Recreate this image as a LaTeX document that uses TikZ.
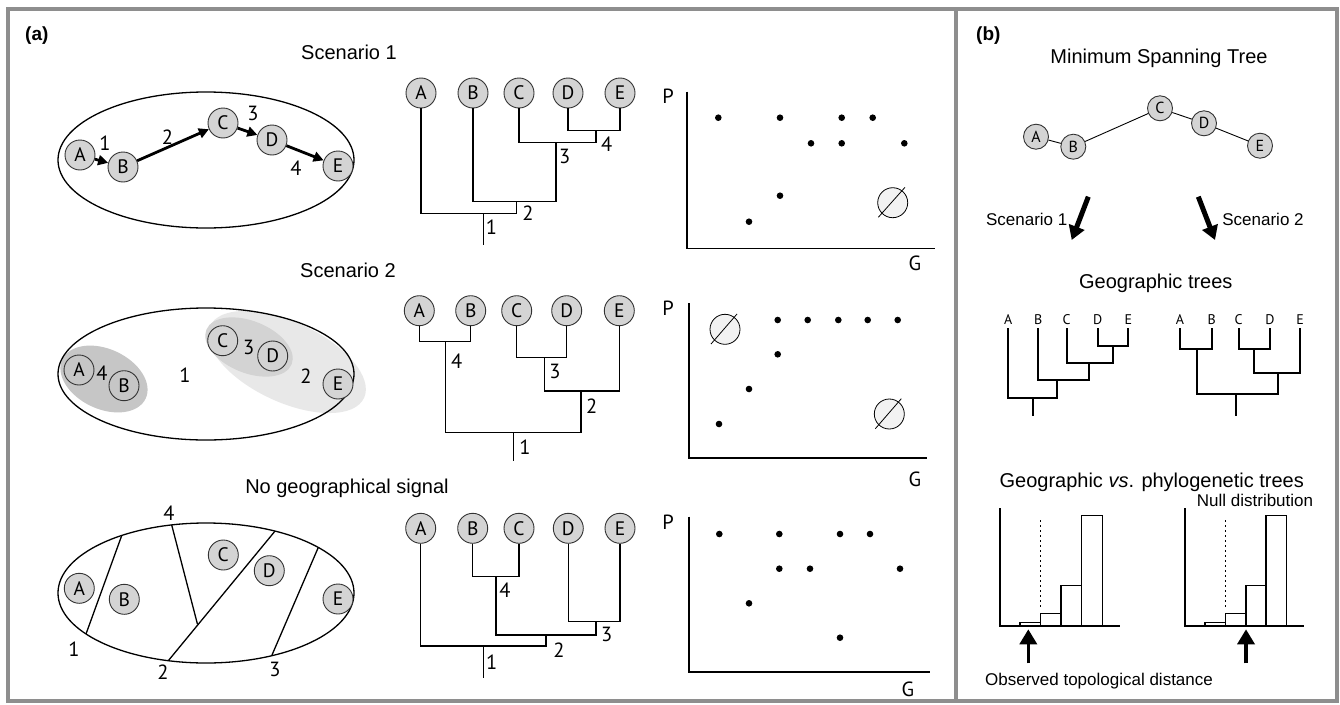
\documentclass[tikz,border=0pt]{standalone}
\usepackage{fontspec}
\setmainfont{Liberation Sans}
\newfontfamily\myr{PT Sans}
\usetikzlibrary{arrows.meta}
\definecolor{frmc}{HTML}{8E8E8E}
\definecolor{ndfill}{HTML}{D4D4D4}
\definecolor{ndline}{HTML}{333333}
\definecolor{regdark}{HTML}{C6C6C6}
\definecolor{regmid}{HTML}{D3D3D3}
\definecolor{reglight}{HTML}{E8E8E8}
\definecolor{esfill}{HTML}{F2F2F2}
\begin{document}
\begin{tikzpicture}[x=1pt,y=-1pt,
 frm/.style={draw=frmc,line width=4pt},
 nd/.style={circle,draw=ndline,fill=ndfill,line width=0.9pt,minimum size=30pt,inner sep=0pt,font=\myr\fontsize{19.5}{19.5}\selectfont},
 nds/.style={nd,minimum size=25pt,font=\myr\fontsize{16}{16}\selectfont},
 ndo/.style={nd,fill=none},
 gl/.style={inner sep=0pt,outer sep=4pt,font=\myr\fontsize{14}{14}\selectfont},
 tr/.style={line width=1.4pt},
 trb/.style={line width=2pt},
 num/.style={inner sep=0pt,font=\myr\fontsize{20.5}{20.5}\selectfont},
 ttl/.style={inner sep=0pt,anchor=base,font=\fontsize{20}{20}\selectfont},
 sml/.style={inner sep=0pt,anchor=base,font=\fontsize{17}{17}\selectfont},
 pnl/.style={inner sep=0pt,anchor=base west,font=\bfseries\fontsize{19}{19}\selectfont},
 ax/.style={line width=1.6pt},
 dotp/.style={fill=black},
 es/.style={draw,line width=0.8pt,fill=esfill},
 arr/.style={line width=2.8pt,-{Triangle[length=10pt,width=10pt]}},
 bigarr/.style={line width=5pt,-{Triangle[length=14pt,width=16pt]}},
 harr/.style={line width=3.5pt,-{Triangle[length=15pt,width=17pt]}},
 bar/.style={draw,line width=1.2pt},
 ]
\useasboundingbox (0,0) rectangle (1340,704);
\fill[white] (0,0) rectangle (1340,704);
% frame
\draw[frm] (8,8.5) rectangle (1337,701);
\draw[frm] (956,8.5) -- (956,701);
\node[pnl] (pa) at (25,40) {(a)};
\node[pnl] (pb) at (976,40) {(b)};

% ---------- Scenario 1 ----------
\node[ttl] (s1t) at (349,59) {Scenario 1};
\draw[line width=1.3pt] (206,160) ellipse (148pt and 68pt);
\node[nd] (s1A) at (80,155) {A};
\node[nd] (s1B) at (123,167) {B};
\node[nd] (s1C) at (223,123) {C};
\node[nd] (s1D) at (272,140) {D};
\node[nd] (s1E) at (338,166) {E};
\draw[arr] (s1A) -- (s1B);
\draw[arr] (s1B) -- (s1C);
\draw[arr] (s1C) -- (s1D);
\draw[arr] (s1D) -- (s1E);
\node[num] (s1n1) at (105,143.3) {1};
\node[num] (s1n2) at (167.5,136.7) {2};
\node[num] (s1n3) at (253,113.3) {3};
\node[num] (s1n4) at (296,168.3) {4};

% tree 1
\node[nd] (t1A) at (421,93) {A};
\node[nd] (t1B) at (473,93) {B};
\node[nd] (t1C) at (519,93) {C};
\node[nd] (t1D) at (568,93) {D};
\node[nd] (t1E) at (620,93) {E};
\coordinate (t1de) at (596,130.7);
\coordinate (t1cde) at (556,142.3);
\coordinate (t1b) at (516.7,201.7);
\coordinate (t1a) at (483.3,213.3);
\coordinate (t1r) at (483.3,245);
\draw[tr] (t1D) |- (t1de) -| (t1E);
\draw[tr] (t1C) |- (t1cde) -| (t1de);
\draw[tr] (t1B) |- (t1b) -| (t1cde);
\draw[tr] (t1A) |- (t1a) -| (t1b);
\draw[tr] (t1a) -- (t1r);
\node[num] (t1n4) at (606.7,144) {4};
\node[num] (t1n3) at (564.7,156) {3};
\node[num] (t1n2) at (528,213) {2};
\node[num] (t1n1) at (491.5,227.5) {1};

% scatter 1
\draw[ax] (686.7,91.7) -- (686.7,248.3) -- (935,248.3);
\node[num] (p1) at (668,96) {P};
\node[num] (g1) at (915,263) {G};
\foreach \x/\y in {718.3/117.7,780/117.7,841.7/117.7,872.7/117.7,811/143.3,841.7/143.3,904.3/143.3,780/195.7,749/221.7}
  \fill[dotp] (\x,\y) circle (3.3pt);
\draw[es] (892.7,202.7) circle (15pt);
\draw[line width=0.8pt] (878.3,217.3) -- (905,187.3);

% ---------- Scenario 2 ----------
\node[ttl] (s2t) at (348,277) {Scenario 2};
\fill[reglight,shift={(287,362)},rotate=-25] (0,0) ellipse (85pt and 40pt);
\fill[regmid,shift={(249,347)},rotate=-22] (0,0) ellipse (46pt and 26pt);
\fill[regdark,shift={(104,379)},rotate=-25] (0,0) ellipse (46pt and 30pt);
\draw[line width=1.3pt] (206,374) ellipse (148pt and 66pt);
\node[ndo] (s2A) at (79,370) {A};
\node[ndo] (s2B) at (124,385.7) {B};
\node[ndo] (s2C) at (222.7,340.7) {C};
\node[ndo] (s2D) at (272.7,356) {D};
\node[nd] (s2E) at (338,384) {E};
\node[num] (s2n4) at (102,373) {4};
\node[num] (s2n1) at (185,375.5) {1};
\node[num] (s2n3) at (248.7,347.3) {3};
\node[num] (s2n2) at (306,376) {2};

% tree 2
\node[nd] (t2A) at (419.3,310.7) {A};
\node[nd] (t2B) at (470.7,310.7) {B};
\node[nd] (t2C) at (516.7,310.7) {C};
\node[nd] (t2D) at (566.7,310.7) {D};
\node[nd] (t2E) at (619.3,310.7) {E};
\coordinate (t2ab) at (445.7,341.7);
\coordinate (t2cd) at (544.3,357.7);
\coordinate (t2cde) at (581,391);
\coordinate (t2all) at (513.3,432.7);
\coordinate (t2r) at (513.3,460.7);
\draw[tr] (t2A) |- (t2ab) -| (t2B);
\draw[tr] (t2C) |- (t2cd) -| (t2D);
\draw[tr] (t2cd) |- (t2cde) -| (t2E);
\draw[tr] (t2ab) |- (t2all) -| (t2cde);
\draw[tr] (t2all) -- (t2r);
\node[num] (t2n4) at (456.7,361) {4};
\node[num] (t2n3) at (555,371) {3};
\node[num] (t2n2) at (591.7,405.8) {2};
\node[num] (t2n1) at (525,446.7) {1};

% scatter 2
\draw[ax] (689,303.3) -- (689,457.7) -- (926.7,457.7);
\node[num] (p2) at (668,308) {P};
\node[num] (g2) at (915,479) {G};
\foreach \x/\y in {777.7/320,807.7/320,838.3/320,867.7/320,897.7/320,777.7/354.3,749/389,719/424}
  \fill[dotp] (\x,\y) circle (3.3pt);
\draw[es] (725,329.3) circle (15pt);
\draw[line width=0.8pt] (711,344) -- (737,314);
\draw[es] (889.3,414) circle (15pt);
\draw[line width=0.8pt] (875.3,428.7) -- (901.3,398.7);

% ---------- No geographical signal ----------
\node[ttl] (s3t) at (347,493) {No geographical signal};
\draw[line width=1.3pt] (206,593) ellipse (148pt and 70pt);
\coordinate (l1a) at (121.7,535.6);
\coordinate (l1b) at (86,634);
\coordinate (l2a) at (171.7,525);
\coordinate (l2b) at (197.5,624.3);
\coordinate (l3a) at (275,531.1);
\coordinate (l3b) at (168.3,660.7);
\coordinate (l4a) at (318.3,547.4);
\coordinate (l4b) at (271.7,655.7);
\draw[line width=1.3pt] (l1a) -- (l1b);
\draw[line width=1.3pt] (l2a) -- (l2b);
\draw[line width=1.3pt] (l3a) -- (l3b);
\draw[line width=1.3pt] (l4a) -- (l4b);
\node[nd] (s3A) at (79.3,588.3) {A};
\node[nd] (s3B) at (124.3,599.3) {B};
\node[nd] (s3C) at (223.3,555) {C};
\node[nd] (s3D) at (269.3,570.7) {D};
\node[nd] (s3E) at (338,599) {E};
\node[num] (s3n4) at (169,513.7) {4};
\node[num] (s3n1) at (74,648.8) {1};
\node[num] (s3n2) at (163,672) {2};
\node[num] (s3n3) at (275,669.7) {3};

% tree 3
\node[nd] (t3A) at (420.7,528.3) {A};
\node[nd] (t3B) at (472.7,528.3) {B};
\node[nd] (t3C) at (519,528.3) {C};
\node[nd] (t3D) at (568.3,528.3) {D};
\node[nd] (t3E) at (620,528.3) {E};
\coordinate (t3bc) at (496,576.7);
\coordinate (t3de) at (596,621.7);
\coordinate (t3bcde) at (546,635);
\coordinate (t3all) at (483.3,646);
\coordinate (t3r) at (483.3,678.3);
\draw[tr] (t3B) |- (t3bc) -| (t3C);
\draw[tr] (t3D) |- (t3de) -| (t3E);
\draw[tr] (t3bc) |- (t3bcde) -| (t3de);
\draw[tr] (t3A) |- (t3all) -| (t3bcde);
\draw[tr] (t3all) -- (t3r);
\node[num] (t3n4) at (505,590) {4};
\node[num] (t3n3) at (606.7,634) {3};
\node[num] (t3n2) at (559,649.7) {2};
\node[num] (t3n1) at (491.7,661.7) {1};

% scatter 3
\draw[ax] (689,516.7) -- (689,671.7) -- (930,671.7);
\node[num] (p3) at (668,522) {P};
\node[num] (g3) at (908,689) {G};
\foreach \x/\y in {719.3/534,779.3/534,840/534,870/534,779.3/568.7,810/568.7,900/568.7,749/603.3,840/637.7}
  \fill[dotp] (\x,\y) circle (3.3pt);

% ---------- panel b ----------
\node[ttl] (mst) at (1159,63) {Minimum Spanning Tree};
\node[nds] (mA) at (1036,136.7) {A};
\node[nds] (mB) at (1073.3,146.7) {B};
\node[nds] (mC) at (1160,108.3) {C};
\node[nds] (mD) at (1204,123.3) {D};
\node[nds] (mE) at (1260,145.7) {E};
\draw[line width=0.9pt] (mA) -- (mB);
\draw[line width=0.9pt] (mB) -- (mC);
\draw[line width=0.9pt] (mC) -- (mD);
\draw[line width=0.9pt] (mD) -- (mE);
\node[sml] (bs1) at (1026.7,225) {Scenario 1};
\node[sml] (bs2) at (1263,225) {Scenario 2};
\coordinate (ba1s) at (1088.3,196.7);
\coordinate (ba1e) at (1071.7,240);
\coordinate (ba2s) at (1198.3,196.7);
\coordinate (ba2e) at (1215,240);
\draw[bigarr] (ba1s) -- (ba1e);
\draw[bigarr] (ba2s) -- (ba2e);

\node[ttl] (gt) at (1155.8,288) {Geographic trees};
\node[gl] (g1A) at (1008.3,319.3) {A};
\node[gl] (g1B) at (1038.3,319.3) {B};
\node[gl] (g1C) at (1066.7,319.3) {C};
\node[gl] (g1D) at (1097.7,319.3) {D};
\node[gl] (g1E) at (1128.3,319.3) {E};
\coordinate (g1de) at (1113.3,345.7);
\coordinate (g1cde) at (1089.3,362.7);
\coordinate (g1bcde) at (1057.3,380);
\coordinate (g1all) at (1033.3,397.7);
\coordinate (g1r) at (1033.3,416);
\draw[trb] (g1D) |- (g1de) -| (g1E);
\draw[trb] (g1C) |- (g1cde) -| (g1de);
\draw[trb] (g1B) |- (g1bcde) -| (g1cde);
\draw[trb] (g1A) |- (g1all) -| (g1bcde);
\draw[trb] (g1all) -- (g1r);

\node[gl] (g2A) at (1180,319.3) {A};
\node[gl] (g2B) at (1211.7,319.3) {B};
\node[gl] (g2C) at (1238.7,319.3) {C};
\node[gl] (g2D) at (1270,319.3) {D};
\node[gl] (g2E) at (1300,319.3) {E};
\coordinate (g2ab) at (1196.7,349.3);
\coordinate (g2cd) at (1254.3,349.3);
\coordinate (g2cde) at (1277.7,372.7);
\coordinate (g2all) at (1235.7,394);
\coordinate (g2r) at (1235.7,416);
\draw[trb] (g2A) |- (g2ab) -| (g2B);
\draw[trb] (g2C) |- (g2cd) -| (g2D);
\draw[trb] (g2cd) |- (g2cde) -| (g2E);
\draw[trb] (g2ab) |- (g2all) -| (g2cde);
\draw[trb] (g2all) -- (g2r);

\node[ttl] (gvp) at (1151.7,487) {Geographic \textit{vs}. phylogenetic trees};
\node[sml] (nd) at (1255,506) {Null distribution};
% left histogram
\draw[ax] (1000,508.3) -- (1000,626) -- (1120,626);
\draw[bar] (1020,626) rectangle (1040.7,622.3);
\draw[bar] (1040.7,626) rectangle (1061,613.3);
\draw[bar] (1061,626) rectangle (1081.7,585.7);
\draw[bar] (1081.7,626) rectangle (1102.7,515.7);
\draw[line width=1.4pt,dash pattern=on 1.5pt off 3.5pt] (1040.7,520) -- (1040.7,610);
\coordinate (h1s) at (1028.3,663.3);
\coordinate (h1e) at (1028.3,629.3);
\draw[harr] (h1s) -- (h1e);
% right histogram
\draw[ax] (1185,508.3) -- (1185,626) -- (1304.3,626);
\draw[bar] (1205,626) rectangle (1225.3,622.3);
\draw[bar] (1225.3,626) rectangle (1246,613.3);
\draw[bar] (1246,626) rectangle (1266,585.7);
\draw[bar] (1266,626) rectangle (1286.7,515.7);
\draw[line width=1.4pt,dash pattern=on 1.5pt off 3.5pt] (1225.3,520) -- (1225.3,610);
\coordinate (h2s) at (1246,663.3);
\coordinate (h2e) at (1246,629.3);
\draw[harr] (h2s) -- (h2e);
\node[sml] (otd) at (1099,685) {Observed topological distance};
\end{tikzpicture}
\end{document}
